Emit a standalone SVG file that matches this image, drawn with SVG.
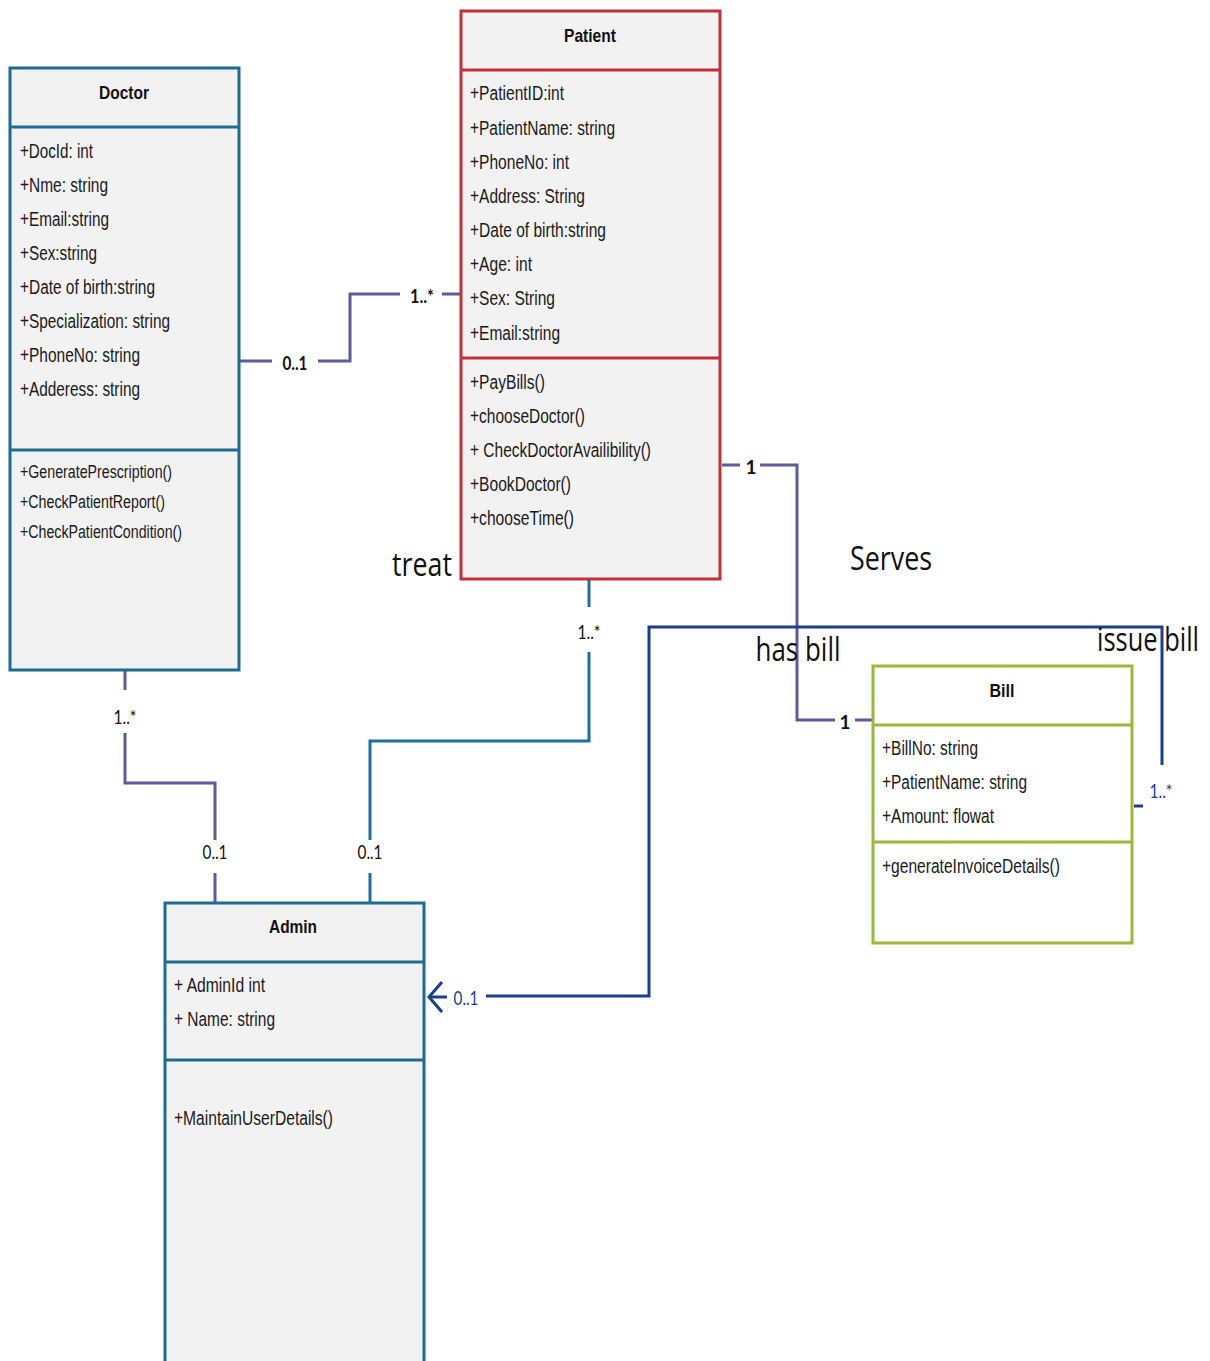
<svg xmlns="http://www.w3.org/2000/svg" width="1210" height="1361" viewBox="0 0 1210 1361">
<style>
.box{fill:#f2f2f2;stroke-width:3}
.teal{stroke:#1f6b91}
.red{stroke:#c0313b}
.green{stroke:#9ab83a}
.t{font-family:"Liberation Sans",Arial,sans-serif;font-size:20px;fill:#1a1a1a;dominant-baseline:central}
.m{font-family:"Liberation Sans",Arial,sans-serif;font-size:18px;fill:#1a1a1a;dominant-baseline:central}
.h{font-family:"Liberation Sans",Arial,sans-serif;font-size:19px;font-weight:bold;fill:#111;text-anchor:middle;dominant-baseline:central}
.lbl{font-family:"Lato","Open Sans",sans-serif;font-size:19px;fill:#111;text-anchor:middle;dominant-baseline:central}
.big{font-family:"Open Sans","Noto Sans",sans-serif;font-size:33px;fill:#111;text-anchor:middle;dominant-baseline:central}
.c{fill:none;stroke-width:3}
.pu{stroke:#5b5b9e}
.tl{stroke:#1f6f9c}
.nv{stroke:#1b3f8e}
</style>
<g id="connectors">
<polyline class="c pu" points="239,361 272,361"/>
<polyline class="c pu" points="318,361 350,361 350,294 400,294"/>
<polyline class="c pu" points="442,294 461,294"/>
<text class="lbl" x="295" y="362" font-weight="bold" textLength="25" lengthAdjust="spacingAndGlyphs">0..1</text>
<text class="lbl" x="422" y="295" font-weight="bold" textLength="24" lengthAdjust="spacingAndGlyphs">1..*</text>
<polyline class="c pu" points="722,465 740,465"/>
<polyline class="c pu" points="760,465 797,465 797,720 835,720"/>
<polyline class="c pu" points="855,720 873,720"/>
<text class="lbl" x="751" y="466" font-weight="bold">1</text>
<text class="lbl" x="845" y="721" font-weight="bold">1</text>
<polyline class="c pu" points="125,663 125,690"/>
<polyline class="c pu" points="125,733 125,783 215,783 215,840"/>
<polyline class="c pu" points="215,873 215,903"/>
<text class="lbl" x="125" y="716" textLength="23" lengthAdjust="spacingAndGlyphs">1..*</text>
<text class="lbl" x="215" y="851" textLength="25" lengthAdjust="spacingAndGlyphs">0..1</text>
<polyline class="c tl" points="589,579 589,607"/>
<polyline class="c tl" points="589,652 589,741 370,741 370,840"/>
<polyline class="c tl" points="370,873 370,903"/>
<text class="lbl" x="589" y="631" textLength="23" lengthAdjust="spacingAndGlyphs">1..*</text>
<text class="lbl" x="370" y="851" textLength="25" lengthAdjust="spacingAndGlyphs">0..1</text>
<polyline class="c nv" points="486,996 649,996 649,627 1162,627 1162,765"/>
<polyline class="c nv" points="442,982 429,997 442,1012"/>
<line class="c nv" x1="430" y1="997" x2="447" y2="997"/>
<line class="c nv" x1="1134" y1="806" x2="1143" y2="806"/>
<text class="lbl" x="466" y="997" style="fill:#1b3f8e" textLength="25" lengthAdjust="spacingAndGlyphs">0..1</text>
<text class="lbl" x="1161" y="790" style="fill:#1b3f8e" textLength="23" lengthAdjust="spacingAndGlyphs">1..*</text>
</g>
<g id="doctor">
<rect class="box teal" x="10" y="68" width="229" height="602"/>
<line class="teal" stroke-width="3" x1="10" y1="127" x2="239" y2="127"/>
<line class="teal" stroke-width="3" x1="10" y1="450" x2="239" y2="450"/>
<text class="h" x="124" y="92" textLength="50" lengthAdjust="spacingAndGlyphs">Doctor</text>
<text class="t" x="20" y="151" textLength="73" lengthAdjust="spacingAndGlyphs">+DocId: int</text>
<text class="t" x="20" y="185" textLength="88" lengthAdjust="spacingAndGlyphs">+Nme: string</text>
<text class="t" x="20" y="219" textLength="89" lengthAdjust="spacingAndGlyphs">+Email:string</text>
<text class="t" x="20" y="253" textLength="77" lengthAdjust="spacingAndGlyphs">+Sex:string</text>
<text class="t" x="20" y="287" textLength="135" lengthAdjust="spacingAndGlyphs">+Date of birth:string</text>
<text class="t" x="20" y="321" textLength="150" lengthAdjust="spacingAndGlyphs">+Specialization: string</text>
<text class="t" x="20" y="355" textLength="120" lengthAdjust="spacingAndGlyphs">+PhoneNo: string</text>
<text class="t" x="20" y="389" textLength="120" lengthAdjust="spacingAndGlyphs">+Adderess: string</text>
<text class="m" x="20" y="472" textLength="152" lengthAdjust="spacingAndGlyphs">+GeneratePrescription()</text>
<text class="m" x="20" y="502" textLength="145" lengthAdjust="spacingAndGlyphs">+CheckPatientReport()</text>
<text class="m" x="20" y="532" textLength="162" lengthAdjust="spacingAndGlyphs">+CheckPatientCondition()</text>
</g>
<g id="patient">
<rect class="box red" x="461" y="11" width="259" height="568"/>
<line class="red" stroke-width="3" x1="461" y1="70" x2="720" y2="70"/>
<line class="red" stroke-width="3" x1="461" y1="358" x2="720" y2="358"/>
<text class="h" x="590" y="35" textLength="52" lengthAdjust="spacingAndGlyphs">Patient</text>
<text class="t" x="470" y="93" textLength="94" lengthAdjust="spacingAndGlyphs">+PatientID:int</text>
<text class="t" x="470" y="128" textLength="145" lengthAdjust="spacingAndGlyphs">+PatientName: string</text>
<text class="t" x="470" y="162" textLength="99" lengthAdjust="spacingAndGlyphs">+PhoneNo: int</text>
<text class="t" x="470" y="196" textLength="115" lengthAdjust="spacingAndGlyphs">+Address: String</text>
<text class="t" x="470" y="230" textLength="136" lengthAdjust="spacingAndGlyphs">+Date of birth:string</text>
<text class="t" x="470" y="264" textLength="62" lengthAdjust="spacingAndGlyphs">+Age: int</text>
<text class="t" x="470" y="298" textLength="85" lengthAdjust="spacingAndGlyphs">+Sex: String</text>
<text class="t" x="470" y="333" textLength="90" lengthAdjust="spacingAndGlyphs">+Email:string</text>
<text class="t" x="470" y="382" textLength="75" lengthAdjust="spacingAndGlyphs">+PayBills()</text>
<text class="t" x="470" y="416" textLength="115" lengthAdjust="spacingAndGlyphs">+chooseDoctor()</text>
<text class="t" x="470" y="450" textLength="181" lengthAdjust="spacingAndGlyphs">+ CheckDoctorAvailibility()</text>
<text class="t" x="470" y="484" textLength="101" lengthAdjust="spacingAndGlyphs">+BookDoctor()</text>
<text class="t" x="470" y="518" textLength="104" lengthAdjust="spacingAndGlyphs">+chooseTime()</text>
</g>
<g id="bill">
<rect class="box green" x="873" y="666" width="259" height="277" style="fill:#fff"/>
<line class="green" stroke-width="3" x1="873" y1="725" x2="1132" y2="725"/>
<line class="green" stroke-width="3" x1="873" y1="842" x2="1132" y2="842"/>
<text class="h" x="1002" y="690" textLength="25" lengthAdjust="spacingAndGlyphs">Bill</text>
<text class="t" x="882" y="748" textLength="96" lengthAdjust="spacingAndGlyphs">+BillNo: string</text>
<text class="t" x="882" y="782" textLength="145" lengthAdjust="spacingAndGlyphs">+PatientName: string</text>
<text class="t" x="882" y="816" textLength="112" lengthAdjust="spacingAndGlyphs">+Amount: flowat</text>
<text class="t" x="882" y="866" textLength="178" lengthAdjust="spacingAndGlyphs">+generateInvoiceDetails()</text>
</g>
<g id="admin">
<rect class="box teal" x="165" y="903" width="259" height="480"/>
<line class="teal" stroke-width="3" x1="165" y1="962" x2="424" y2="962"/>
<line class="teal" stroke-width="3" x1="165" y1="1060" x2="424" y2="1060"/>
<text class="h" x="293" y="926" textLength="48" lengthAdjust="spacingAndGlyphs">Admin</text>
<text class="t" x="174" y="985" textLength="91" lengthAdjust="spacingAndGlyphs">+ AdminId int</text>
<text class="t" x="174" y="1019" textLength="101" lengthAdjust="spacingAndGlyphs">+ Name: string</text>
<text class="t" x="174" y="1118" textLength="159" lengthAdjust="spacingAndGlyphs">+MaintainUserDetails()</text>
</g>
<g id="labels">
<text class="big" x="422" y="563" textLength="60" lengthAdjust="spacingAndGlyphs">treat</text>
<text class="big" x="891" y="557" textLength="82" lengthAdjust="spacingAndGlyphs">Serves</text>
<text class="big" x="798" y="648" textLength="85" lengthAdjust="spacingAndGlyphs">has bill</text>
<text class="big" x="1148" y="638" textLength="102" lengthAdjust="spacingAndGlyphs">issue bill</text>
</g>
</svg>
